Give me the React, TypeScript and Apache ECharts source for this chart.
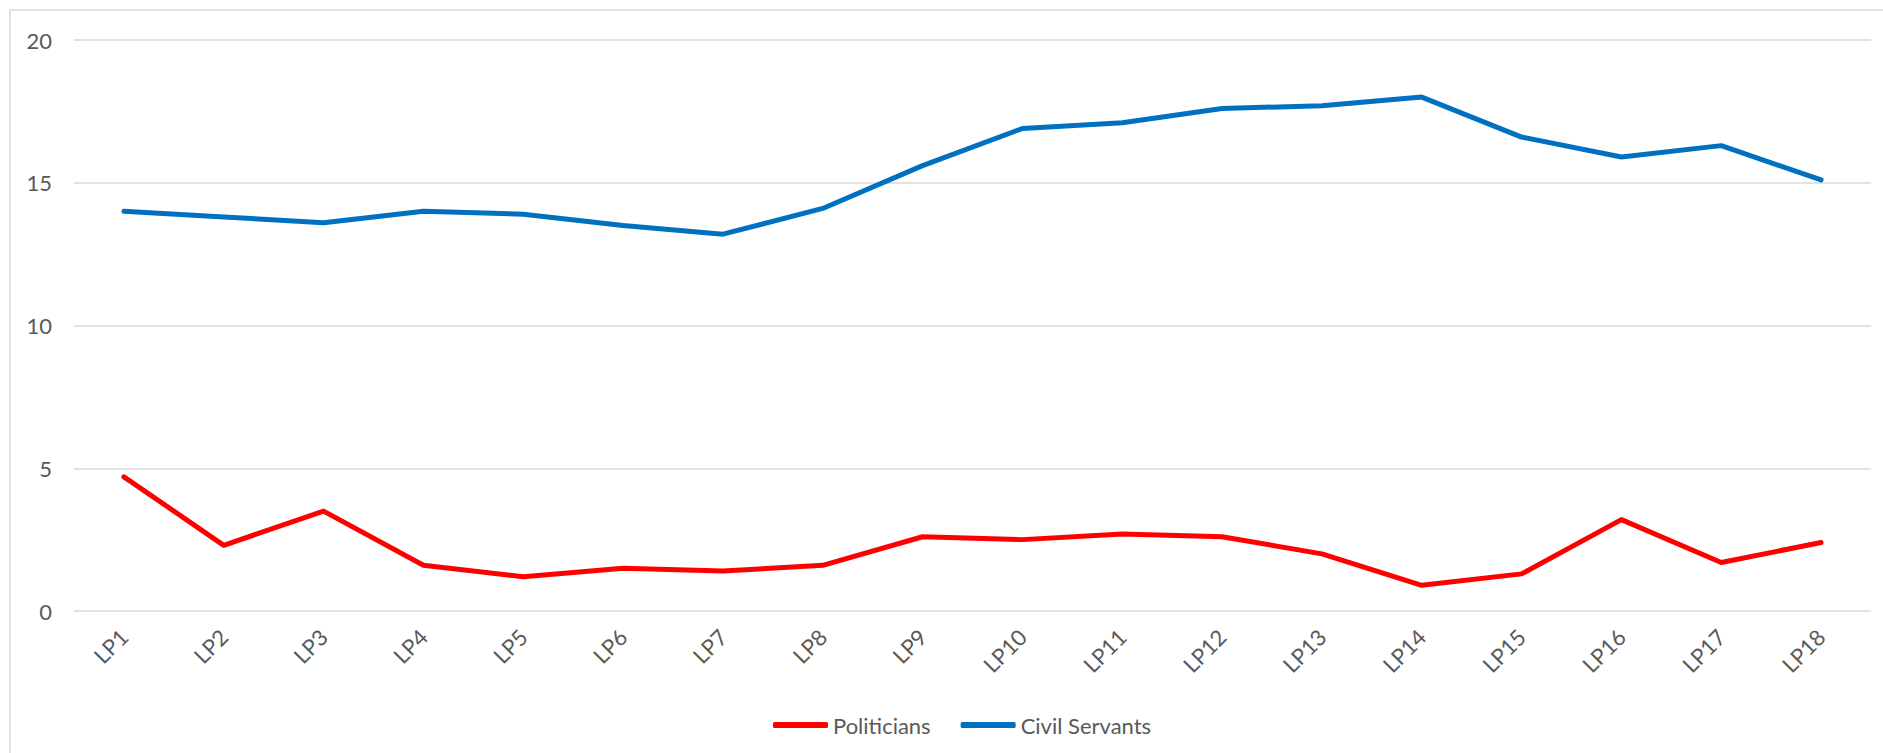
import React, { useEffect, useRef } from "react";
import * as echarts from "echarts";

const categories = ["LP1", "LP2", "LP3", "LP4", "LP5", "LP6", "LP7", "LP8", "LP9", "LP10", "LP11", "LP12", "LP13", "LP14", "LP15", "LP16", "LP17", "LP18"];
const politicians = [4.7, 2.3, 3.5, 1.6, 1.2, 1.5, 1.4, 1.6, 2.6, 2.5, 2.7, 2.6, 2.0, 0.9, 1.3, 3.2, 1.7, 2.4];
const civilServants = [14.0, 13.8, 13.6, 14.0, 13.9, 13.5, 13.2, 14.1, 15.6, 16.9, 17.1, 17.6, 17.7, 18.0, 16.6, 15.9, 16.3, 15.1];
const seriesNames = ["Politicians", "Civil Servants"];

const FONT = "Lato, 'Open Sans', sans-serif";
const TEXT = "#595959";

export default function App() {
  const ref = useRef<HTMLDivElement>(null);
  useEffect(() => {
    if (!ref.current) return;
    const chart = echarts.init(ref.current, null, { renderer: "svg" });
    chart.setOption({
      animation: false,
      backgroundColor: "#ffffff",
      graphic: [
        {
          type: "rect",
          silent: true,
          shape: { x: 10, y: 10, width: 1900, height: 800 },
          style: { fill: "none", stroke: "#d9d9d9", lineWidth: 1.5 },
        },
      ],
      grid: { left: 74, right: 12, top: 40, bottom: 142, containLabel: false },
      legend: {
        data: seriesNames,
        left: 768,
        top: 709,
        icon: "roundRect",
        itemWidth: 55,
        itemHeight: 6,
        itemGap: 30,
        textStyle: { color: TEXT, fontSize: 22, fontFamily: FONT },
      },
      xAxis: {
        type: "category",
        data: categories,
        boundaryGap: true,
        axisLine: { show: false },
        axisTick: { show: false },
        axisLabel: {
          rotate: 45,
          margin: 22,
          color: TEXT,
          fontSize: 22,
          fontFamily: FONT,
          interval: 0,
        },
      },
      yAxis: {
        type: "value",
        min: 0,
        max: 20,
        interval: 5,
        axisLine: { show: false },
        axisTick: { show: false },
        axisLabel: { color: TEXT, fontSize: 22, fontFamily: FONT, margin: 22 },
        splitLine: { lineStyle: { color: "#d9d9d9", width: 1.5 } },
      },
      series: [
        {
          name: seriesNames[0],
          type: "line",
          data: politicians,
          symbol: "none",
          color: "#ff0000",
          lineStyle: { color: "#ff0000", width: 5, cap: "round", join: "round" },
        },
        {
          name: seriesNames[1],
          type: "line",
          data: civilServants,
          symbol: "none",
          color: "#0070c0",
          lineStyle: { color: "#0070c0", width: 5, cap: "round", join: "round" },
        },
      ],
    });
    return () => chart.dispose();
  }, []);
  return (
    <div
      ref={ref}
      style={{ position: "absolute", left: 0, top: 0, width: 1883, height: 753 }}
    />
  );
}
